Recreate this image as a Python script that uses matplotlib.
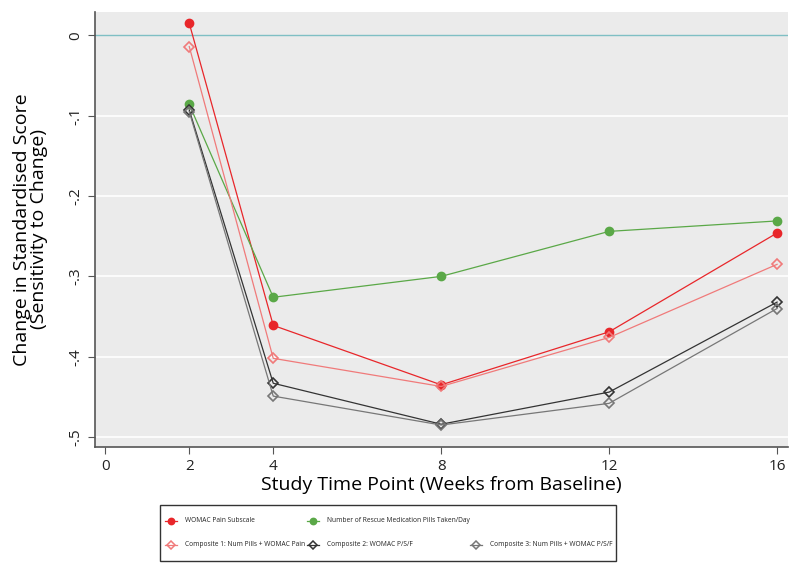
import matplotlib.pyplot as plt
from matplotlib.lines import Line2D
from matplotlib.patches import Rectangle

plt.rcParams['font.family'] = ['Open Sans', 'DejaVu Sans']

weeks = [2, 4, 8, 12, 16]
womac_pain = [0.015, -0.361, -0.435, -0.369, -0.246]
rescue_pills = [-0.086, -0.326, -0.300, -0.244, -0.231]
composite1 = [-0.014, -0.402, -0.437, -0.376, -0.285]
composite2 = [-0.093, -0.433, -0.484, -0.444, -0.332]
composite3 = [-0.095, -0.449, -0.485, -0.458, -0.340]

xticks = [0, 2, 4, 8, 12, 16]
yticks = [0, -0.1, -0.2, -0.3, -0.4, -0.5]
ylabels = ['0', '-.1', '-.2', '-.3', '-.4', '-.5']

W, H = 800, 572
fig = plt.figure(figsize=(8, 5.72), dpi=100)
ax = fig.add_axes([0.119, 0.219, 0.866, 0.760])
ax.set_facecolor('#ebebeb')

for y in yticks[1:]:
    ax.axhline(y, color='white', lw=1.2, zorder=0)
ax.axhline(0, color='#7fbfc4', lw=1, zorder=1)

series = [
    (womac_pain, 'WOMAC Pain Subscale', '#e8262a', 'o', True),
    (rescue_pills, 'Number of Rescue Medication Pills Taken/Day', '#5aa847', 'o', True),
    (composite1, 'Composite 1: Num Pills + WOMAC Pain', '#f07a7a', 'D', False),
    (composite2, 'Composite 2: WOMAC P/S/F', '#333333', 'D', False),
    (composite3, 'Composite 3: Num Pills + WOMAC P/S/F', '#777777', 'D', False),
]

for vals, label, color, marker, filled in series:
    ms = 5.8 if marker == 'o' else 5.0
    ax.plot(weeks, vals, color=color, lw=0.9, marker=marker, ms=ms,
            markerfacecolor=color if filled else 'none',
            markeredgecolor=color, markeredgewidth=1.2, label=label, zorder=3)

ax.set_xlim(-0.24, 16.26)
ax.set_ylim(-0.512, 0.029)
ax.set_xticks(xticks)
ax.set_yticks(yticks)
ax.set_yticklabels(ylabels, rotation=90, va='center')
ax.tick_params(axis='both', direction='out', length=5, color='#555555', labelsize=11, labelcolor='#222222')
for s in ['top', 'right']:
    ax.spines[s].set_visible(False)
for s in ['left', 'bottom']:
    ax.spines[s].set_color('#555555')
    ax.spines[s].set_linewidth(1.2)

ax.set_xlabel('Study Time Point (Weeks from Baseline)', fontsize=14, labelpad=2)
ax.set_ylabel('Change in Standardised Score\n(Sensitivity to Change)', fontsize=14, linespacing=0.95)
ax.yaxis.set_label_coords(-0.068, 0.5)

# legend drawn by hand in pixel positions: box, then entries in a 2-row grid
fig.add_artist(Rectangle((160 / W, 1 - 561 / H), 456 / W, 56 / H, transform=fig.transFigure,
                         facecolor='white', edgecolor='#333333', lw=1.0))
slots = [(171, 521), (313, 521), (171, 545), (313, 545), (476, 545)]
for (vals, label, color, marker, filled), (px, py) in zip(series, slots):
    x, y = px / W, 1 - py / H
    fig.add_artist(Line2D([x - 6 / W, x + 6 / W], [y, y], transform=fig.transFigure,
                          color=color, lw=0.9))
    fig.add_artist(Line2D([x], [y], transform=fig.transFigure, marker=marker,
                          ms=4.5 if marker == 'o' else 4.0,
                          markerfacecolor=color if filled else 'none',
                          markeredgecolor=color, markeredgewidth=1.1))
    fig.text(x + 14 / W, y, label, fontsize=4.8, va='center', ha='left', color='#222222')

fig.savefig('out.png', dpi=100)
